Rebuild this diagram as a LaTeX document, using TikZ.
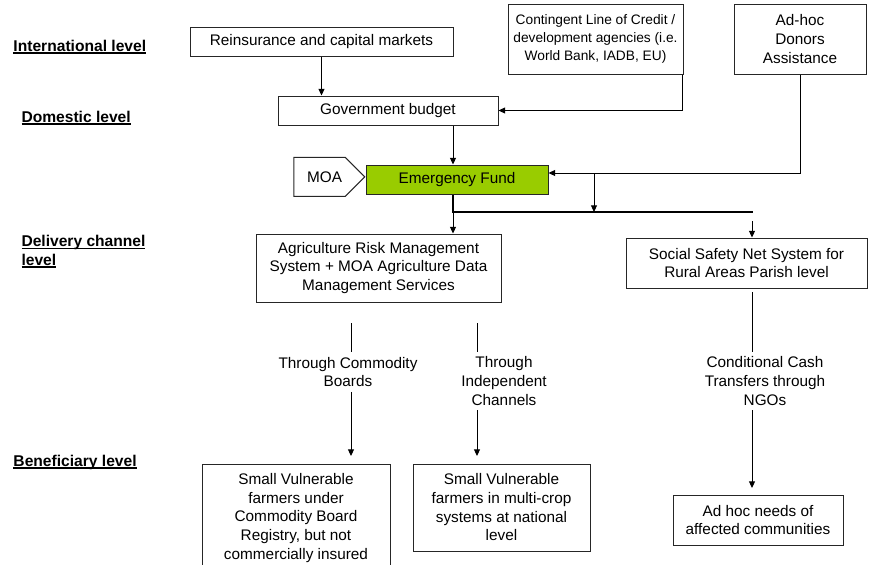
\documentclass[tikz,border=0pt]{standalone}
\usepackage{fontspec}
\setmainfont{Liberation Sans}
\usepackage{xcolor}
\usetikzlibrary{arrows.meta,shapes.symbols}

\definecolor{fundgreen}{HTML}{99CC00}
\newcommand{\lvlul}[1]{\vtop{\hbox{\smash{#1}\vphantom{A}}\kern1pt\hrule height 1.1pt}}

\begin{document}
\begin{tikzpicture}[x=0.75pt, y=-0.75pt, line width=0.75pt,
    >={Triangle[length=5pt,width=4.5pt]},
    every node/.style={font=\fontsize{11.5}{14}\selectfont, align=center},
    box/.style={draw=black!85, line width=0.75pt, inner sep=0pt},
    lvl/.style={anchor=base west, align=left, inner sep=0pt, font=\fontsize{11.7}{14}\selectfont\bfseries}]

    \clip (0, 0) rectangle (869, 565);

    \node [lvl] (il) at (13, 51) {\lvlul{International level}};
    \node [lvl] (dl) at (21, 122) {\lvlul{Domestic level}};
    \node [lvl] (cl) at (21, 265) {\lvlul{Delivery channel}\\\lvlul{level}};
    \node [lvl] (bl) at (13, 466) {\lvlul{Beneficiary level}};

    \node [box, minimum width=197.25pt, minimum height=21.75pt] (re) at (321.5, 41.5) {Reinsurance and capital markets};
    \node [box, minimum width=131.25pt, minimum height=52.5pt, font=\fontsize{10.3}{13.5}\selectfont] (lc) at (595.5, 39) {Contingent Line of Credit /\\development agencies (i.e.\\World Bank, IADB, EU)};
    \node [box, minimum width=99pt, minimum height=52.5pt] (dn) at (800, 39) {Ad-hoc\\Donors\\Assistance};
    \node [box, minimum width=165pt, minimum height=21.75pt] (gb) at (388, 110.5) {Government budget};
    \node [box, fill=fundgreen, minimum width=136.5pt, minimum height=21.75pt] (ef) at (457, 179.5) {Emergency Fund};
    \node [box, signal, signal to=east, minimum width=53.25pt, minimum height=29.25pt, anchor=east] (moa) at ([yshift=2pt]ef.west) {\kern 7.5pt MOA};

    \node [box, minimum width=183.75pt, minimum height=51pt] (ar) at (378.5, 268) {Agriculture Risk Management\\System + MOA Agriculture Data\\Management Services};
    \node [box, minimum width=180.75pt, minimum height=37.5pt] (ssn) at (746.5, 263) {Social Safety Net System for\\Rural Areas Parish level};

    \node (tc) at (348, 372) {Through Commodity\\Boards};
    \node (ti) at (504, 381) {Through\\Independent\\Channels};
    \node (cc) at (765, 381) {Conditional Cash\\Transfers through\\NGOs};

    \node [box, minimum width=141pt, minimum height=81pt] (sv1) at (296, 518) {Small Vulnerable\\farmers under\\Commodity Board\\Registry, but not\\commercially insured};
    \node [box, minimum width=132.75pt, minimum height=65.25pt] (sv2) at (501.5, 507.5) {Small Vulnerable\\farmers in multi-crop\\systems at national\\level};
    \node [box, minimum width=127.5pt, minimum height=37.5pt] (ah) at (758, 520) {Ad hoc needs of\\affected communities};

    \coordinate (s) at (453, 212);
    \coordinate (t) at (753, 212);
    \coordinate (h) at (594, 173);
    \coordinate (u) at (752, 221);
    \coordinate (a1) at (351, 323);
    \coordinate (a2) at (351, 456);
    \coordinate (b1) at (477, 323);
    \coordinate (b2) at (477, 456);
    \coordinate (c1) at (752, 292);
    \coordinate (c2) at (752, 488);

    \draw [->] (re.south) to (re.south |- gb.north);
    \draw [->] ([xshift=-0.75pt]lc.south east) |- (gb);
    \draw [->] (gb.south -| s) to (ef.north -| s);
    \draw [->] (dn) |- (ef.east |- h);
    \draw [->] (h) to (h |- s);
    \draw [line width=1.5pt] (ef.south -| s) -- (s) -- (t);
    \draw [->] (s) to (ar.north -| s);
    \draw [->] (u) to (ssn.north -| u);

    \draw (a1) to (a1 |- tc.north);
    \draw [->] (a1 |- tc.south) to (a2);
    \draw (b1) to (b1 |- ti.north);
    \draw [->] (b1 |- ti.south) to (b2);
    \draw (c1) to (c1 |- cc.north);
    \draw [->] (c1 |- cc.south) to (c2);

\end{tikzpicture}
\end{document}
